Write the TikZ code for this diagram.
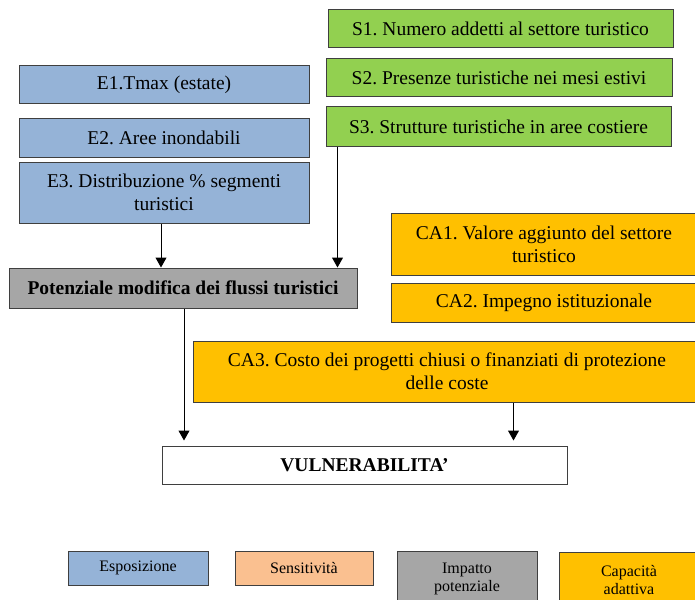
\documentclass[tikz,border=0pt]{standalone}
\usepackage{fontspec}
\setmainfont{Liberation Serif}
\usetikzlibrary{arrows.meta}
\definecolor{cblue}{HTML}{95B3D7}
\definecolor{cgreen}{HTML}{92D050}
\definecolor{corange}{HTML}{FFC000}
\definecolor{cgray}{HTML}{A6A6A6}
\definecolor{cpeach}{HTML}{FAC090}
\definecolor{cborder}{HTML}{3F3F3F}
\frenchspacing
\tikzset{
  box/.style={draw=cborder, line width=1pt, inner sep=0pt, align=center,
    font=\fontsize{19.5}{23}\selectfont, text=black},
  legbox/.style={box, font=\fontsize{16}{17.5}\selectfont},
  arr/.style={-{Triangle[width=11pt,length=10pt]}, line width=1pt, black},
}
\begin{document}
\begin{tikzpicture}[x=1pt,y=-1pt]
\useasboundingbox (0,0) rectangle (695,599);
\clip (0,0) rectangle (695,599);
% Exposure
\node[box, fill=cblue, minimum width=290, minimum height=38] (E1) at (164,85) {E1.Tmax (estate)};
\node[box, fill=cblue, minimum width=290, minimum height=39] (E2) at (164,137.5) {E2. Aree inondabili};
\node[box, fill=cblue, minimum width=290, minimum height=61] (E3) at (164,192.5) {E3. Distribuzione \% segmenti\\turistici};
% Sensitivity
\node[box, fill=cgreen, minimum width=345, minimum height=38] (S1) at (500.5,29) {S1. Numero addetti al settore turistico};
\node[box, fill=cgreen, minimum width=346, minimum height=38] (S2) at (499,78) {S2. Presenze turistiche nei mesi estivi};
\node[box, fill=cgreen, minimum width=345, minimum height=39] (S3) at (498.5,126.5) {S3. Strutture turistiche in aree costiere};
% Potential impact
\node[box, fill=cgray, minimum width=348, minimum height=40, font=\fontsize{19.5}{23}\selectfont\bfseries] (P) at (183,288) {Potenziale modifica dei flussi turistici};
% Adaptive capacity
\node[box, fill=corange, minimum width=306, minimum height=62] (CA1) at (544,244) {CA1. Valore aggiunto del settore\\turistico};
\node[box, fill=corange, minimum width=306, minimum height=39] (CA2) at (544,302.5) {CA2. Impegno istituzionale};
\node[box, fill=corange, minimum width=508, minimum height=61] (CA3) at (447,371.5) {CA3. Costo dei progetti chiusi o finanziati di protezione\\delle coste};
% Vulnerability
\node[box, fill=white, minimum width=405, minimum height=38, font=\fontsize{19.5}{23}\selectfont\bfseries] (V) at (364.5,465) {VULNERABILITA’};
% Arrows
\draw[arr] (161,0 |- E3.south) -- (161,0 |- P.north);
\draw[arr] (337.5,0 |- S3.south) -- (337.5,0 |- P.north);
\draw[arr, shorten >=5pt] (184,0 |- P.south) -- (184,0 |- V.north);
\draw[arr, shorten >=5pt] (513.5,0 |- CA3.south) -- (513.5,0 |- V.north);
% Legend
\node[legbox, fill=cblue, minimum width=140, minimum height=34] (L1) at (138,568) {Esposizione};
\node[legbox, fill=cpeach, minimum width=138, minimum height=34] (L2) at (304,568) {Sensitività};
\node[legbox, fill=cgray, minimum width=140, minimum height=55] (L3) at (467,579) {Impatto\\potenziale};
\node[legbox, fill=corange, minimum width=140, minimum height=55] (L4) at (629,580) {Capacità\\adattiva};
\end{tikzpicture}
\end{document}
